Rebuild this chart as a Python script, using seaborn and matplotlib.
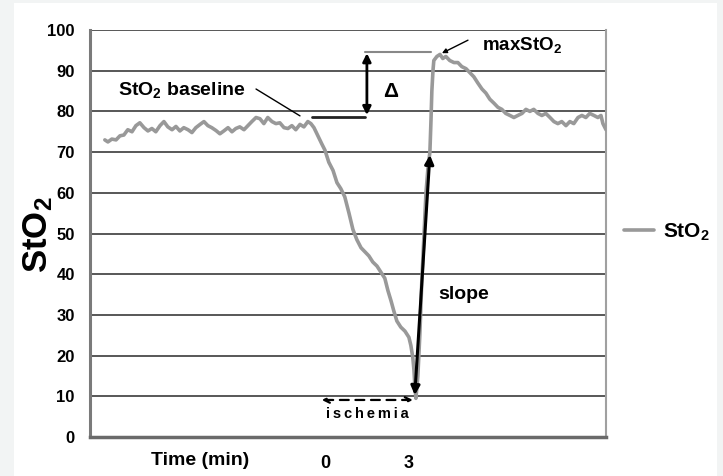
import matplotlib
matplotlib.use("Agg")
import matplotlib.pyplot as plt
from matplotlib.patches import Rectangle
import seaborn as sns
import pandas as pd

# time in minutes (0 = start of ischemia), StO2 in %
time_min = [-7.86, -7.75, -7.61, -7.46, -7.32, -7.18, -7.04, -6.89, -6.75, -6.61,
            -6.46, -6.32, -6.18, -6.04, -5.89, -5.75, -5.61, -5.46, -5.32, -5.18,
            -5.04, -4.89, -4.75, -4.61, -4.46, -4.32, -4.18, -4.04, -3.89, -3.75,
            -3.61, -3.46, -3.32, -3.18, -3.04, -2.89, -2.75, -2.61, -2.46, -2.32,
            -2.18, -2.04, -1.89, -1.75, -1.61, -1.46, -1.32, -1.18, -1.04, -0.89,
            -0.75, -0.61, -0.50,
            -0.39, -0.25, -0.11, 0.00, 0.14, 0.29, 0.43, 0.57, 0.71, 0.86,
            1.00, 1.14, 1.29, 1.43, 1.57, 1.71, 1.86, 2.00, 2.14, 2.25,
            2.36, 2.46, 2.57, 2.71, 2.86, 3.00, 3.07, 3.14, 3.18, 3.21, 3.25,
            3.32, 3.39, 3.46, 3.54, 3.61, 3.68, 3.75, 3.79, 3.82, 3.86, 3.89,
            4.00, 4.11, 4.21, 4.32, 4.46,
            4.61, 4.75, 4.89, 5.04, 5.18, 5.32, 5.46, 5.61, 5.75, 5.89,
            6.04, 6.18, 6.32, 6.46, 6.61, 6.75, 6.89, 7.04, 7.18, 7.32,
            7.46, 7.61, 7.75, 7.89, 8.04, 8.18, 8.32, 8.46, 8.61, 8.75,
            8.89, 9.04, 9.18, 9.32, 9.46, 9.61, 9.75, 9.86, 9.93, 10.04]
sto2 = [73.0, 72.5, 73.2, 73.0, 74.0, 74.2, 75.5, 75.0, 76.5, 77.2,
        76.0, 75.2, 75.8, 75.0, 76.5, 77.5, 76.2, 75.5, 76.3, 75.2,
        76.0, 75.5, 74.8, 76.0, 76.8, 77.5, 76.5, 76.0, 75.3, 74.5,
        75.2, 76.0, 75.0, 75.8, 76.2, 75.5, 76.5, 77.5, 78.5, 78.2,
        77.0, 78.5, 77.5, 77.0, 77.2, 76.0, 75.8, 76.5, 75.5, 76.8,
        76.2, 77.5, 77.0,
        76.0, 74.0, 72.0, 70.5, 67.5, 65.5, 62.5, 61.0, 59.0, 55.0,
        51.0, 48.5, 46.5, 45.5, 44.5, 43.0, 42.0, 40.5, 39.0, 36.0,
        33.5, 31.0, 28.5, 27.0, 26.0, 24.5, 22.5, 19.5, 16.5, 13.0, 9.5,
        15.0, 25.0, 38.0, 50.0, 60.0, 66.0, 70.0, 78.0, 85.0, 90.0, 92.5,
        93.5, 94.0, 93.0, 93.5, 92.5,
        92.0, 92.0, 91.0, 90.5, 89.5, 88.5, 87.0, 85.5, 84.5, 83.0,
        82.0, 81.0, 80.5, 79.5, 79.0, 78.5, 79.0, 79.5, 80.5, 80.0,
        80.5, 79.5, 79.0, 79.5, 78.5, 77.5, 77.0, 77.5, 76.5, 77.5,
        77.0, 78.5, 79.0, 78.5, 79.5, 79.0, 78.5, 79.0, 77.0, 75.5]
y_ticks = [0, 10, 20, 30, 40, 50, 60, 70, 80, 90, 100]
x_ticks = [0, 3]
x_tick_labels = ["0", "3"]

df = pd.DataFrame({"time": time_min, "StO2": sto2})

sns.set_style("white")
plt.rcParams["font.family"] = ["Liberation Sans", "DejaVu Sans"]
plt.rcParams["font.weight"] = "bold"
plt.rcParams["text.color"] = "black"
plt.rcParams["axes.labelcolor"] = "black"
plt.rcParams["xtick.color"] = "black"
plt.rcParams["ytick.color"] = "black"
plt.rcParams["mathtext.fontset"] = "custom"
plt.rcParams["mathtext.rm"] = "Liberation Sans:bold"
plt.rcParams["mathtext.bf"] = "Liberation Sans:bold"
plt.rcParams["mathtext.it"] = "Liberation Sans:bold"
plt.rcParams["mathtext.default"] = "bf"

fig = plt.figure(figsize=(7.23, 4.76), dpi=100, facecolor="#f2f4f4")
bg = Rectangle((14 / 723, 0), 703 / 723, 473 / 476, transform=fig.transFigure,
               facecolor="white", edgecolor="none", zorder=-10)
fig.add_artist(bg)
ax = fig.add_axes([90 / 723, 39 / 476, 516 / 723, 407 / 476], zorder=1)
ax.set_facecolor("white")

sns.lineplot(data=df, x="time", y="StO2", ax=ax, color="#999999", lw=2.6,
             estimator=None, sort=False, label="StO$_2$", zorder=3)

ax.set_xlim(-8.39, 10.04)
ax.set_ylim(0, 100)
ax.set_yticks(y_ticks)
ax.set_yticklabels([str(v) for v in y_ticks], fontsize=12, fontweight="bold")
ax.set_xticks(x_ticks)
ax.set_xticklabels(x_tick_labels, fontsize=13, fontweight="bold")
ax.tick_params(axis="x", length=0, pad=13)
ax.tick_params(axis="y", length=6, width=1.3, color="#555555", pad=5, direction="out")
for v in y_ticks:
    ax.axhline(v, color="#4a4a4a", lw=1.3, zorder=1)

ax.spines["top"].set_visible(False)
ax.spines["left"].set_color("#7a7a7a")
ax.spines["left"].set_linewidth(2.2)
ax.spines["bottom"].set_color("#6a6a6a")
ax.spines["bottom"].set_linewidth(2.5)
ax.spines["right"].set_color("#a0a0a0")
ax.spines["right"].set_linewidth(1.5)

ax.set_xlabel("Time (min)", fontsize=14, fontweight="bold")
ax.xaxis.set_label_coords(0.213, -0.057)
ax.xaxis.label.set_va("center")
ax.set_ylabel("StO$_2$", fontsize=25, fontweight="bold", va="center")
ax.yaxis.set_label_coords(-0.1, 0.496)

# baseline annotation
ax.text(-7.39, 85.3, "StO$_2$ baseline", fontsize=14, fontweight="bold", va="center")
ax.plot([-2.46, -0.89], [85.5, 78.9], color="black", lw=1.0)
ax.plot([-0.46, 1.43], [78.6, 78.6], color="#222222", lw=2.0, zorder=4)
ax.plot([1.43, 3.79], [94.6, 94.6], color="#888888", lw=1.5, zorder=4)
ax.annotate("", xy=(1.5, 94.3), xytext=(1.5, 79.1),
            arrowprops=dict(arrowstyle="<|-|>", color="black", lw=2.0,
                            mutation_scale=12, shrinkA=0, shrinkB=0))
ax.text(2.07, 84.8, "Δ", fontsize=15, fontweight="bold", va="center")

# max annotation
ax.text(5.61, 96.3, "maxStO$_2$", fontsize=13.5, fontweight="bold", va="center")
ax.annotate("", xy=(4.18, 94.3), xytext=(5.11, 97.5),
            arrowprops=dict(arrowstyle="-|>", color="black", lw=1.0,
                            mutation_scale=7, shrinkA=0, shrinkB=0))

# slope
ax.annotate("", xy=(3.75, 69.3), xytext=(3.21, 10.3),
            arrowprops=dict(arrowstyle="<|-|>", color="black", lw=2.2,
                            mutation_scale=13, shrinkA=0, shrinkB=0), zorder=5)
ax.text(4.04, 34.9, "slope", fontsize=14, fontweight="bold", va="center")

# ischemia
ax.annotate("", xy=(3.14, 9.1), xytext=(-0.11, 9.1),
            arrowprops=dict(arrowstyle="<->", color="black", lw=1.6, ls=(0, (4, 3)),
                            mutation_scale=10, shrinkA=0, shrinkB=0))
ax.text(1.5, 5.7, "i\u2009s\u2009c\u2009h\u2009e\u2009m\u2009i\u2009a", fontsize=10.5,
        fontweight="bold", ha="center", va="center")

leg = ax.legend(loc="center left", bbox_to_anchor=(1.035, 0.504), frameon=False,
                handlelength=1.45, handletextpad=0.4, borderpad=0, borderaxespad=0,
                prop={"size": 15, "weight": "bold"})

fig.savefig("out.png", dpi=100, facecolor=fig.get_facecolor())
